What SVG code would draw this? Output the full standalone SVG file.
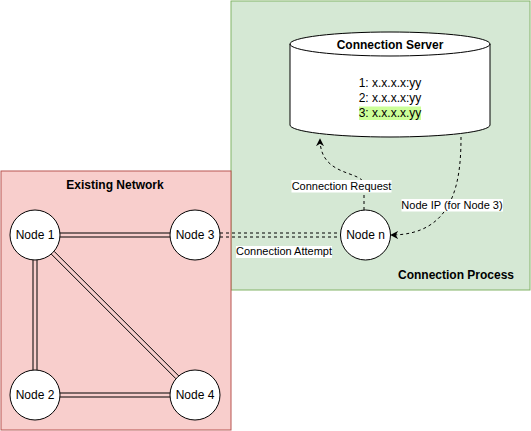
<svg xmlns="http://www.w3.org/2000/svg" width="531" height="431" viewBox="0 0 531 431">
<defs>
<style>
.t{font-family:"Liberation Sans",Arial,sans-serif;font-size:12px;fill:#000;text-anchor:middle}
.b{font-weight:bold}
.s{font-size:11px}
.node{fill:#fff;stroke:#000;stroke-width:1}
.link{stroke:#000;stroke-width:1;fill:none}
.dash{stroke:#000;stroke-width:1;fill:none;stroke-dasharray:3 3}
.lbl{fill:#fff}
</style>
<marker id="arr" viewBox="0 0 10 10" refX="9" refY="5" markerWidth="8" markerHeight="8" markerUnits="userSpaceOnUse" orient="auto">
<path d="M0,0 L10,5 L0,10 L3,5 z" fill="#000"/>
</marker>
</defs>
<g id="connection-process">
<rect x="231" y="1" width="299" height="289" fill="#d5e8d4" stroke="#82b366"/>
<text class="t b" x="456" y="279">Connection Process</text>
</g>
<g id="existing-network">
<rect x="1" y="171" width="230" height="259" fill="#f8cecc" stroke="#b85450"/>
<text class="t b" x="115" y="189">Existing Network</text>
</g>
<g id="connection-server">
<path d="M290,44 A100,12 0 0 1 490,44 L490,125 A100,12 0 0 1 290,125 Z" fill="#fff" stroke="#000"/>
<path d="M290,44 A100,12 0 0 0 490,44" fill="none" stroke="#000"/>
<text class="t b" x="390" y="49">Connection Server</text>
<text class="t" x="390" y="87">1: x.x.x.x:yy</text>
<text class="t" x="390" y="102">2: x.x.x.x:yy</text>
<rect x="359" y="106.5" width="62" height="13.5" fill="#ccff99"/>
<text class="t" x="390" y="117">3: x.x.x.x.yy</text>
</g>
<g id="connectors">
<line class="link" x1="60" y1="233" x2="170" y2="233"/>
<line class="link" x1="60" y1="237" x2="170" y2="237"/>
<line class="link" x1="60" y1="393" x2="170" y2="393"/>
<line class="link" x1="60" y1="397" x2="170" y2="397"/>
<line class="link" x1="33" y1="260" x2="33" y2="370"/>
<line class="link" x1="37" y1="260" x2="37" y2="370"/>
<line class="link" x1="54.1" y1="251.3" x2="178.7" y2="375.9"/>
<line class="link" x1="51.3" y1="254.1" x2="175.9" y2="378.7"/>
<line class="dash" x1="220" y1="233" x2="340" y2="233"/>
<line class="dash" x1="220" y1="237" x2="340" y2="237"/>
<rect class="lbl" x="236" y="246" width="96" height="12"/>
<text class="t s" x="284" y="255">Connection Attempt</text>
<path class="dash" d="M364,210 L364,185 C364,170 320,178 320,139" marker-end="url(#arr)"/>
<rect class="lbl" x="291.5" y="180" width="100" height="12.5"/>
<text class="t s" x="341.5" y="190">Connection Request</text>
<path class="dash" d="M461,137 C461,180 455,235 391,235" marker-end="url(#arr)"/>
<rect class="lbl" x="401.5" y="199" width="101.5" height="12.5"/>
<text class="t s" x="452" y="209">Node IP (for Node 3)</text>
</g>
<g id="node-1"><circle class="node" cx="35" cy="235" r="25"/><text class="t" x="35" y="239">Node 1</text></g>
<g id="node-2"><circle class="node" cx="35" cy="395" r="25"/><text class="t" x="35" y="399">Node 2</text></g>
<g id="node-3"><circle class="node" cx="195" cy="235" r="25"/><text class="t" x="195" y="239">Node 3</text></g>
<g id="node-4"><circle class="node" cx="195" cy="395" r="25"/><text class="t" x="195" y="399">Node 4</text></g>
<g id="node-n"><circle class="node" cx="365.5" cy="235" r="25"/><text class="t" x="365.5" y="239">Node n</text></g>
</svg>
